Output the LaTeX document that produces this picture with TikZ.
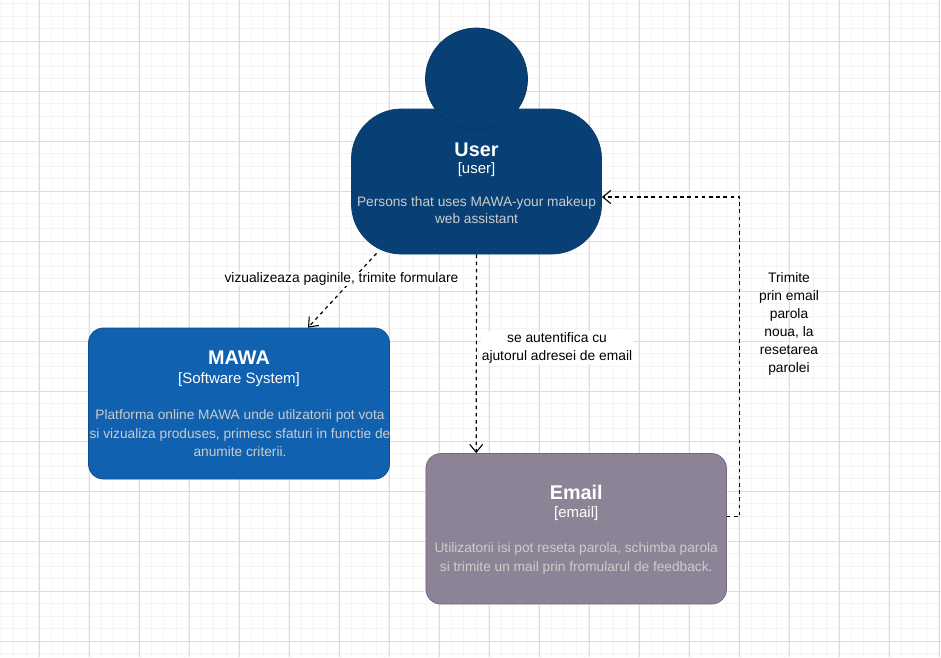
\documentclass[tikz,border=0pt]{standalone}
\usepackage{fontspec}
\setmainfont{Liberation Sans}
\usetikzlibrary{arrows.meta}
\definecolor{gridminor}{HTML}{F4F4F4}
\definecolor{gridmajor}{HTML}{DCDCDC}
\definecolor{userfill}{HTML}{083F75}
\definecolor{userline}{HTML}{073763}
\definecolor{mawafill}{HTML}{1061B0}
\definecolor{mawaline}{HTML}{0D5091}
\definecolor{mailfill}{HTML}{8C8496}
\definecolor{mailline}{HTML}{736782}
\definecolor{desctext}{HTML}{CCCCCC}
\tikzset{
  boxshape/.style={rounded corners=15pt,line width=0.8pt,inner sep=0pt},
  titletext/.style={text=white,font=\fontsize{19.8}{22}\selectfont\bfseries,inner sep=0pt},
  kindtext/.style={text=white,font=\fontsize{15}{17}\selectfont,inner sep=0pt},
  desctext/.style={text=desctext,font=\fontsize{13.7}{18.5}\selectfont,align=center,inner sep=0pt},
  edgelabel/.style={text=black,font=\fontsize{13.8}{18}\selectfont,align=center,inner sep=1pt},
  relation/.style={draw=black,line width=1.2pt,dash pattern=on 3.6pt off 3.6pt,-{Straight Barb[length=8pt,width=13pt,line width=1.1pt]}},
}
\begin{document}
\begin{tikzpicture}[x=1pt,y=-1pt]
\useasboundingbox (0,0) rectangle (941,657);
\fill[white] (0,0) rectangle (941,657);
% grid
\foreach \k in {0,...,76}{\draw[gridminor,line width=1pt] ({1.5+12.5*\k-0.5},0) -- ++(0,657);}
\foreach \k in {0,...,53}{\draw[gridminor,line width=1pt] (0,{4+12.5*\k-0.5}) -- ++(941,0);}
\foreach \k in {0,...,18}{\draw[gridmajor,line width=1pt] ({39.5+50*\k},0) -- ++(0,657);}
\foreach \k in {0,...,12}{\draw[gridmajor,line width=1pt] (0,{41.5+50*\k}) -- ++(941,0);}
% shapes
\node[boxshape,rounded corners=50pt,draw=userfill,fill=userfill,minimum width=250pt,minimum height=145pt] (userbody) at (476.5,181.5) {};
\node[circle,draw=userline,fill=userfill,line width=0.8pt,minimum size=102pt,inner sep=0pt] (userhead) at (476.5,79) {};
\node[boxshape,draw=mawaline,fill=mawafill,minimum width=301pt,minimum height=151pt] (mawa) at (239,403.5) {};
\node[boxshape,draw=mailline,fill=mailfill,minimum width=300.5pt,minimum height=150.5pt] (email) at (576.2,528.8) {};
% box texts
\node[titletext] (usertitle) at (476.5,150) {User};
\node[kindtext] (userkind) at (476.5,169.5) {[user]};
\node[desctext,font=\fontsize{13.7}{16.3}\selectfont] (userdesc) at (476.5,210) {Persons that uses MAWA-your makeup\\web assistant};
\node[titletext] (mawatitle) at (239,358) {MAWA};
\node[kindtext] (mawakind) at (239,380) {[Software System]};
\node[desctext] (mawadesc) at (240,433.5) {Platforma online MAWA unde utilzatorii pot vota\\si vizualiza produses, primesc sfaturi in functie de\\anumite criterii.};
\node[titletext] (mailtitle) at (576.2,492) {Email};
\node[kindtext] (mailkind) at (576.2,514) {[email]};
\node[desctext] (maildesc) at (576.2,558.5) {Utilizatorii isi pot reseta parola, schimba parola\\si trimite un mail prin fromularul de feedback.};
% connectors
\draw[relation] ([xshift=-100pt,yshift=1pt]userbody.south) -- ([xshift=69pt]mawa.north);
\draw[relation] (userbody.south) -- ([xshift=-100pt]email.north);
\draw[relation] ([yshift=12pt]email.east) -- ++(13,0) |- ([yshift=-15.5pt]userbody.east);
% connector labels
\node[edgelabel,fill=white] (label1) at (341.5,279) {vizualizeaza paginile, trimite formulare};
\node[edgelabel,fill=white] (label2) at (557,347.5) {se autentifica cu\\ajutorul adresei de email};
\node[edgelabel] (label3) at (789,323.5) {Trimite\\prin email\\parola\\noua, la\\resetarea\\parolei};
\end{tikzpicture}
\end{document}
